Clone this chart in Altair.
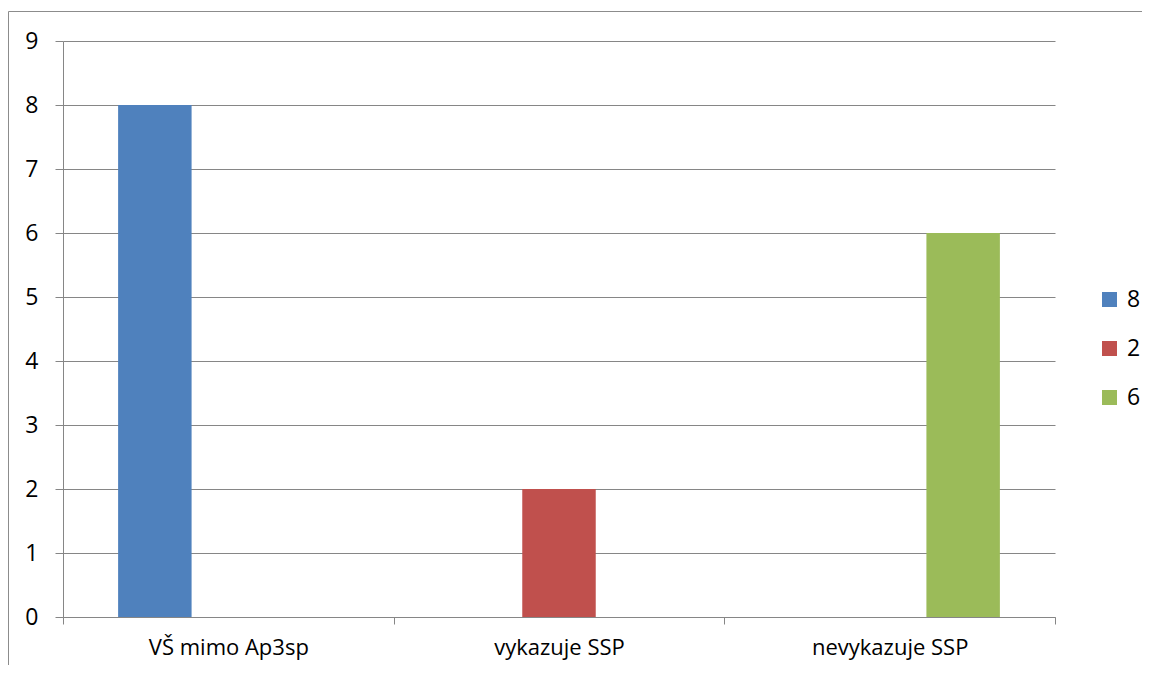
import altair as alt
import pandas as pd

categories = ["VŠ mimo Ap3sp", "vykazuje SSP", "nevykazuje SSP"]
series = ["8", "2", "6"]
values = [8, 2, 6]
colors = ["#4F81BD", "#C0504D", "#9BBB59"]

df = pd.DataFrame({"category": categories, "series": series, "value": values})

GREY = "#868686"
FONT = "Open Sans"

bars = alt.Chart(df).mark_bar().encode(
    x=alt.X("category:N", sort=categories,
            scale=alt.Scale(paddingInner=0, paddingOuter=0),
            axis=alt.Axis(title=None, labelAngle=0, tickBand="extent", tickSize=7,
                          tickColor=GREY, domainColor=GREY, grid=False,
                          labelFontSize=22, labelFont=FONT, labelColor="#000000",
                          labelPadding=13)),
    xOffset=alt.XOffset("series:N", sort=series,
                        scale=alt.Scale(domain=series, paddingInner=0, paddingOuter=0.75)),
    y=alt.Y("value:Q", scale=alt.Scale(domain=[0, 9], nice=False),
            axis=alt.Axis(title=None, values=list(range(10)), tickSize=8,
                          tickColor=GREY, domainColor=GREY, gridColor=GREY,
                          labelFontSize=23, labelFont=FONT, labelColor="#000000",
                          labelPadding=17)),
    color=alt.Color("series:N", sort=series,
                    scale=alt.Scale(domain=series, range=colors),
                    legend=alt.Legend(title=None, orient="none", legendX=1035, legendY=247,
                                      symbolType="square", symbolSize=225,
                                      symbolStrokeWidth=0, symbolOpacity=1,
                                      labelFontSize=23, labelFont=FONT,
                                      labelColor="#000000", labelOffset=6,
                                      rowPadding=25, padding=0)),
)

frame_df = pd.DataFrame({"a": [0]})
frame_left = alt.Chart(frame_df).mark_rule(color="#8c8c8c", strokeWidth=1).encode(
    x=alt.value(-54.5), y=alt.value(-29.5), y2=alt.value(700))
frame_top = alt.Chart(frame_df).mark_rule(color="#8c8c8c", strokeWidth=1).encode(
    x=alt.value(-54.5), x2=alt.value(1200), y=alt.value(-29.5))

chart = alt.layer(bars, frame_left, frame_top).properties(
    width=992, height=576,
    autosize=alt.AutoSizeParams(type="none"),
    padding={"left": 55, "top": 33, "right": 87, "bottom": 48},
).configure_view(strokeWidth=0).configure_axis(gridWidth=1, domainWidth=1, tickWidth=1)

chart.save("out.html", embed_options={"renderer": "svg", "actions": False})
